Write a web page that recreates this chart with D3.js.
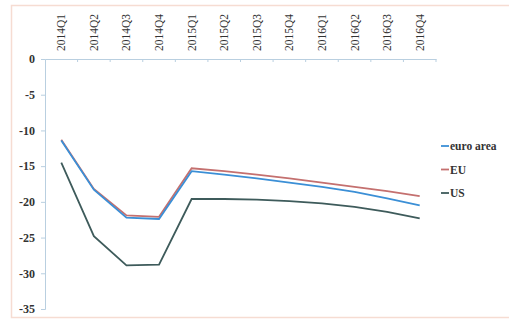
<!DOCTYPE html>
<html><head><meta charset="utf-8">
<script src="https://cdn.jsdelivr.net/npm/d3@7"></script>
<style>body{margin:0;background:#fff}svg{display:block}</style>
</head><body><svg id="c" width="509" height="320"></svg>
<script>
const categories = ["2014Q1","2014Q2","2014Q3","2014Q4","2015Q1","2015Q2","2015Q3","2015Q4","2016Q1","2016Q2","2016Q3","2016Q4"];
const euroArea = [-11.4,-18.3,-22.2,-22.4,-15.7,-16.2,-16.7,-17.3,-17.9,-18.6,-19.5,-20.5];
const eu = [-11.3,-18.2,-21.9,-22.1,-15.3,-15.7,-16.2,-16.7,-17.3,-17.9,-18.5,-19.2];
const us = [-14.5,-24.8,-28.9,-28.8,-19.6,-19.6,-19.7,-19.9,-20.2,-20.7,-21.4,-22.3];
const yTicks = [0,-5,-10,-15,-20,-25,-30,-35];
const seriesNames = ["euro area","EU","US"];
const colors = ["#3b8fd6","#c4706f","#3e5b5b"];

const svg = d3.select("#c");
// frame
svg.append("rect").attr("x",11.5).attr("y",5.5).attr("width",520).attr("height",312)
  .attr("fill","none").attr("stroke","#f6dcd2").attr("stroke-width",1.5);

const x = d3.scaleBand().domain(categories).range([45,436]);
const y = d3.scaleLinear().domain([-35,0]).range([309,59]);

const font = "'Liberation Serif','Times New Roman',serif";

// y axis
const yAxis = svg.append("g").attr("transform","translate(45,0)")
  .call(d3.axisLeft(y).tickValues(yTicks).tickSize(4).tickFormat(d=>String(d)));
yAxis.select(".domain").attr("stroke","#b9cfe0");
yAxis.selectAll(".tick line").attr("stroke","#b9cfe0");
yAxis.selectAll(".tick text").attr("font-family",font).attr("font-size",12).attr("font-weight","bold")
  .attr("fill","#333").attr("x",-10);

// x axis at 0
const xAxis = svg.append("g").attr("transform","translate(0,"+y(0)+")")
  .call(d3.axisBottom(x).tickSize(3).tickSizeOuter(0).tickFormat(""));
xAxis.select(".domain").attr("stroke","#b9cfe0");
xAxis.selectAll(".tick line").attr("stroke","#b9cfe0")
  .attr("transform",d=>"translate("+(x.bandwidth()/2)+",0)");
// rotated labels above
svg.append("g").selectAll("text").data(categories).join("text")
  .attr("transform",d=>"translate("+(x(d)+x.bandwidth()/2+4)+",51) rotate(-90)")
  .attr("font-family",font).attr("font-size",11.5).attr("fill","#333")
  .attr("text-anchor","start").text(d=>d);

const line = d3.line().x((d,i)=>x(categories[i])+x.bandwidth()/2).y(d=>y(d));
const data = [euroArea, eu, us];
[2,1,0].forEach(k=>{
  svg.append("path").datum(data[k]).attr("d",line).attr("fill","none")
    .attr("stroke",colors[k]).attr("stroke-width",1.8);
});

// legend
const lg = svg.append("g");
seriesNames.forEach((n,i)=>{
  const yy = 146 + i*23.5;
  lg.append("line").attr("x1",441).attr("x2",449).attr("y1",yy).attr("y2",yy)
    .attr("stroke",colors[i]).attr("stroke-width",1.8);
  lg.append("text").attr("x",450).attr("y",yy+4).attr("font-family",font)
    .attr("font-size",11.5).attr("font-weight","bold").attr("fill","#333").text(n);
});
</script></body></html>
